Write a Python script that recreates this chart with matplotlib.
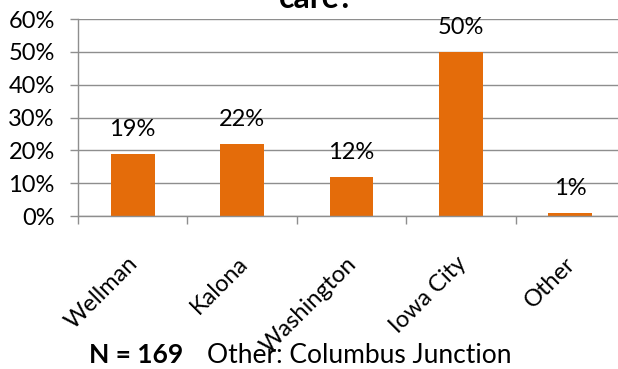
import matplotlib
matplotlib.use('Agg')
import matplotlib.pyplot as plt
import numpy as np

plt.rcParams['font.family'] = ['Lato', 'DejaVu Sans']

# survey results (percent of respondents)
towns = ['Wellman', 'Kalona', 'Washington', 'Iowa City', 'Other']
pct = [19, 22, 12, 50, 1]
yticks = [0, 10, 20, 30, 40, 50, 60]

orange = '#E46C0A'
grey = '#8E8E8E'

fig = plt.figure(figsize=(6.18, 3.69), dpi=100)
ax = fig.add_axes([0.1262, 0.4146, 0.8851, 0.5339])

x = np.arange(len(towns))
ax.bar(x, pct, width=0.4, color=orange, zorder=2)

# value labels above bars
for xi, v in zip(x, pct):
    ax.annotate('%d%%' % v, xy=(xi, v), xytext=(0, 13), textcoords='offset points',
                ha='center', va='baseline', fontsize=17, color='black')

# category names, rotated under each bar
for xi, name in zip(x, towns):
    ax.annotate(name, xy=(xi, 0), xycoords=('data', 'axes fraction'),
                xytext=(1.5, -32), textcoords='offset points',
                rotation=45, rotation_mode='anchor', ha='right', va='center',
                fontsize=17, color='black', annotation_clip=False)

ax.set_xlim(-0.5, len(towns) - 0.5)
ax.set_ylim(0, 60)
ax.set_xticks(np.arange(-0.5, len(towns), 1.0))
ax.set_xticklabels([])
ax.set_yticks(yticks)
ax.set_yticklabels(['%d%%' % t for t in yticks], fontsize=17)

ax.yaxis.grid(True, color=grey, lw=1.0, zorder=0)
ax.set_axisbelow(True)
for s in ['top', 'right']:
    ax.spines[s].set_visible(False)
for s in ['left', 'bottom']:
    ax.spines[s].set_color(grey)
    ax.spines[s].set_linewidth(1.0)
ax.tick_params(axis='both', direction='out', length=5.8, width=1.0, color=grey)
ax.tick_params(axis='y', pad=11)

# title (only its last line fits)
fig.text(317 / 618, 1 - 8 / 369, 'care?', ha='center', va='baseline',
         fontsize=23, fontweight='bold')

fig.text(89 / 618, 6 / 369, 'N = 169', ha='left', va='baseline',
         fontsize=19, fontweight='bold')
fig.text(207 / 618, 6 / 369, 'Other: Columbus Junction', ha='left', va='baseline',
         fontsize=19)

fig.savefig('out.png', dpi=100)
